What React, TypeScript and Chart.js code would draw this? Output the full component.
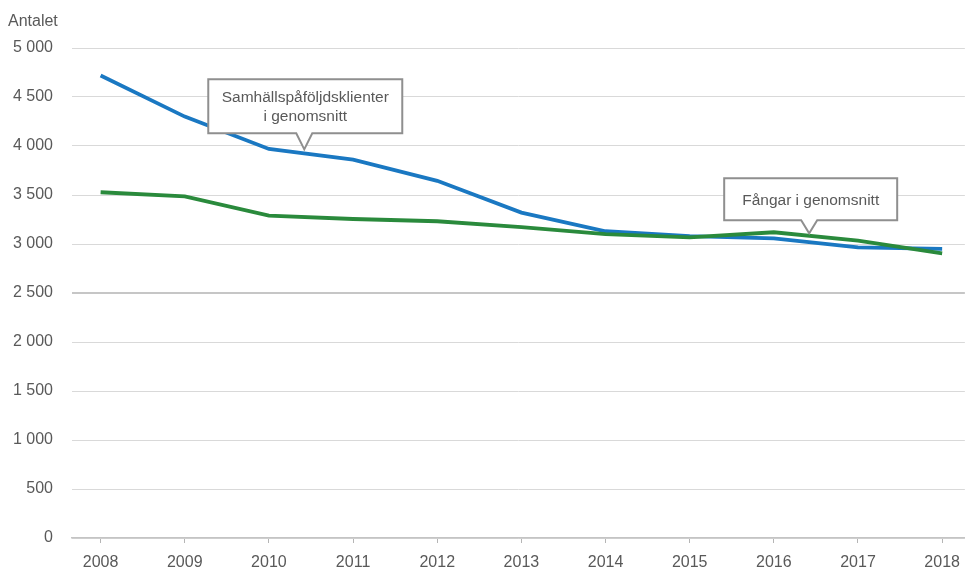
import React, { useEffect, useRef } from "react";
import { Chart, registerables } from "chart.js";

Chart.register(...registerables);

const years = [2008, 2009, 2010, 2011, 2012, 2013, 2014, 2015, 2016, 2017, 2018];
const samhallsValues = [4720, 4300, 3970, 3860, 3645, 3320, 3130, 3080, 3057, 2965, 2950];
const fangarValues = [3528, 3487, 3290, 3255, 3232, 3172, 3100, 3068, 3120, 3035, 2905];
const yTicks = [0, 500, 1000, 1500, 2000, 2500, 3000, 3500, 4000, 4500, 5000];
const yAxisTitle = "Antalet";
const callout1Lines = ["Samhällspåföljdsklienter", "i genomsnitt"];
const callout2Lines = ["Fångar i genomsnitt"];

const FONT = '"Liberation Sans", Arial, sans-serif';
const TEXT = "#595959";

const fmt = (v: number) => String(v).replace(/\B(?=(\d{3})+(?!\d))/g, " ");

const calloutPlugin = {
  id: "callouts",
  afterDatasetsDraw(chart: any) {
    const { ctx, scales } = chart;
    const xs = scales.x;
    const ys = scales.y;
    const drawCallout = (
      tx: number, ty: number, l: number, r: number, t: number, b: number, lines: string[]
    ) => {
      const px = xs.getPixelForValue(tx);
      const py = ys.getPixelForValue(ty);
      const x0 = px + l, x1 = px + r, y0 = py + t, y1 = py + b;
      ctx.save();
      ctx.beginPath();
      ctx.moveTo(x0, y0);
      ctx.lineTo(x1, y0);
      ctx.lineTo(x1, y1);
      ctx.lineTo(px + 8, y1);
      ctx.lineTo(px, py);
      ctx.lineTo(px - 8, y1);
      ctx.lineTo(x0, y1);
      ctx.closePath();
      ctx.fillStyle = "#ffffff";
      ctx.fill();
      ctx.strokeStyle = "#8f8f8f";
      ctx.lineWidth = 2;
      ctx.stroke();
      ctx.fillStyle = TEXT;
      ctx.font = `15.5px ${FONT}`;
      ctx.textAlign = "center";
      ctx.textBaseline = "middle";
      const cx = (x0 + x1) / 2;
      const cy = (y0 + y1) / 2;
      const lh = 18.5;
      lines.forEach((ln, i) => {
        ctx.fillText(ln, cx, cy + 1 + (i - (lines.length - 1) / 2) * lh);
      });
      ctx.restore();
    };
    drawCallout(2010.42, 3966, -96, 98, -70, -16, callout1Lines);
    drawCallout(2016.42, 3109, -85, 88, -55, -13, callout2Lines);

    ctx.save();
    ctx.fillStyle = TEXT;
    ctx.font = `16px ${FONT}`;
    ctx.textAlign = "left";
    ctx.textBaseline = "middle";
    ctx.fillText(yAxisTitle, 8, 22);
    ctx.restore();
  },
};

export default function App() {
  const ref = useRef<HTMLCanvasElement | null>(null);
  useEffect(() => {
    document.body.style.margin = "0";
    if (!ref.current) return;
    const chart = new Chart(ref.current, {
      type: "line",
      data: {
        datasets: [
          {
            label: "Fångar i genomsnitt",
            data: years.map((y, i) => ({ x: y, y: fangarValues[i] })),
            borderColor: "#2a8a3c",
            borderWidth: 3.8,
            pointRadius: 0,
            tension: 0,
            borderCapStyle: "butt",
          },
          {
            label: "Samhällspåföljdsklienter i genomsnitt",
            data: years.map((y, i) => ({ x: y, y: samhallsValues[i] })),
            borderColor: "#1a78c2",
            borderWidth: 3.8,
            pointRadius: 0,
            tension: 0,
            borderCapStyle: "butt",
          },
        ],
      },
      options: {
        responsive: false,
        animation: false,
        layout: { padding: { top: 48, right: 2, left: 0, bottom: 0 } },
        plugins: { legend: { display: false }, tooltip: { enabled: false } },
        scales: {
          x: {
            type: "linear",
            min: 2007.66,
            max: 2018.27,
            afterBuildTicks: (s: any) => {
              s.ticks = years.map((v) => ({ value: v }));
            },
            afterFit: (s: any) => {
              s.height = 34;
            },
            grid: {
              drawOnChartArea: false,
              drawTicks: true,
              tickLength: 5,
              color: "#b5b5b5",
            },
            border: { display: true, color: "#c4c4c4", width: 1.5 },
            ticks: {
              padding: 10,
              color: TEXT,
              font: { family: FONT, size: 16 },
              maxRotation: 0,
              autoSkip: false,
              callback: (v: any) => String(v),
            },
          },
          y: {
            min: 0,
            max: 5000,
            afterBuildTicks: (s: any) => {
              s.ticks = yTicks.map((v) => ({ value: v }));
            },
            afterFit: (s: any) => {
              s.width = 72;
            },
            grid: {
              drawTicks: false,
              color: (c: any) => (c.tick && c.tick.value === 2500 ? "#c6c6c6" : "#d9d9d9"),
              lineWidth: (c: any) => (c.tick && c.tick.value === 2500 ? 2 : 1),
            },
            border: { display: false },
            ticks: {
              padding: 19,
              color: TEXT,
              font: { family: FONT, size: 16 },
              callback: (v: any) => fmt(Number(v)),
            },
          },
        },
      } as any,
      plugins: [calloutPlugin],
    });
    return () => chart.destroy();
  }, []);
  return (
    <div style={{ width: 970, height: 572 }}>
      <canvas ref={ref} width={970} height={572} style={{ display: "block" }} />
    </div>
  );
}
